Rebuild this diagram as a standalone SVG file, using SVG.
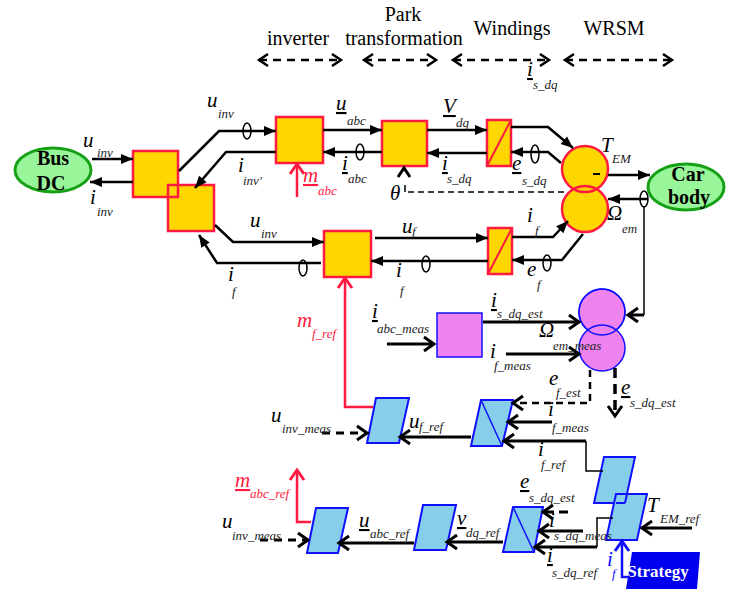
<svg xmlns="http://www.w3.org/2000/svg" width="739" height="589" viewBox="0 0 739 589">
<style>
.ln{fill:none;stroke:#000;stroke-width:2.5}
.th{fill:none;stroke:#000;stroke-width:1.5}
.lo{fill:none;stroke:#000;stroke-width:3}
.rl{fill:none;stroke:#ff1a40;stroke-width:2.5}
.bl{fill:none;stroke:#1010ff;stroke-width:2.5}
.ov{fill:none;stroke:#000;stroke-width:1.5}
.gold{fill:#ffd700;stroke:#ff1a40;stroke-width:2.5}
.goldf{fill:#ffd700;stroke:none}
.rs{fill:none;stroke:#ff1a40;stroke-width:2.5}
.pink{fill:#ee82ee;stroke:#1010ff;stroke-width:1.5}
.sky{fill:#87ceeb;stroke:#1010ff;stroke-width:2}
.ell{fill:#99f599;stroke:#16a016;stroke-width:3}
text{font-family:'Liberation Serif','Times New Roman','DejaVu Serif',serif}
.t{font-style:italic;font-size:21px;fill:#000}
.s{font-style:italic;font-size:13px;fill:#222}
.h{font-size:20px;fill:#000}
.b{font-weight:bold;font-size:20px;fill:#000;text-anchor:middle}
.r{fill:#ff1a40}
.bt{fill:#1010ff}
.u{text-decoration:underline}
</style>
<defs>
<marker id="fa" markerUnits="userSpaceOnUse" markerWidth="12" markerHeight="10" refX="12" refY="5" orient="auto" overflow="visible"><path d="M0,0 L12,5 L0,10 z" fill="#000"/></marker>
<marker id="oa" markerUnits="userSpaceOnUse" markerWidth="14" markerHeight="16" refX="12" refY="8" orient="auto" overflow="visible"><path d="M2,1 L12,8 L2,15" fill="none" stroke="#000" stroke-width="3"/></marker>
<marker id="or" markerUnits="userSpaceOnUse" markerWidth="14" markerHeight="16" refX="12" refY="8" orient="auto" overflow="visible"><path d="M2,1 L12,8 L2,15" fill="none" stroke="#ff1a40" stroke-width="3"/></marker>
<marker id="ob" markerUnits="userSpaceOnUse" markerWidth="14" markerHeight="16" refX="12" refY="8" orient="auto" overflow="visible"><path d="M2,1 L12,8 L2,15" fill="none" stroke="#1010ff" stroke-width="3"/></marker>
<marker id="ha" markerUnits="userSpaceOnUse" markerWidth="12" markerHeight="14" refX="10" refY="7" orient="auto-start-reverse" overflow="visible"><path d="M1,1 L10,7 L1,13" fill="none" stroke="#000" stroke-width="2.5"/></marker>
</defs>

<g id="headers">
<text class="h" x="298" y="45" text-anchor="middle">inverter</text>
<text class="h" x="403" y="21" text-anchor="middle">Park</text>
<text class="h" x="404" y="45" text-anchor="middle">transformation</text>
<text class="h" x="512" y="35" text-anchor="middle">Windings</text>
<text class="h" x="614" y="35" text-anchor="middle">WRSM</text>
<g fill="none" stroke="#000" stroke-width="2.5" stroke-dasharray="8,6" marker-start="url(#ha)" marker-end="url(#ha)">
<line x1="259" y1="60" x2="341" y2="60"/>
<line x1="364" y1="60" x2="436" y2="60"/>
<line x1="453" y1="60" x2="549" y2="60"/>
<line x1="565" y1="60" x2="672" y2="60"/>
</g>
</g>

<g id="nodes">
<g id="busdc"><ellipse class="ell" cx="53" cy="170" rx="38" ry="22"/><text class="b" x="53" y="165">Bus</text><text class="b" x="51" y="190">DC</text></g>
<g id="inv1"><rect class="gold" x="133" y="151" width="45" height="46"/></g>
<g id="inv2"><rect class="gold" x="168" y="185" width="46" height="46"/><path class="rs" d="M168,197 H178 V185"/></g>
<g id="inv3"><rect class="gold" x="276" y="117" width="47" height="46"/></g>
<g id="park"><rect class="gold" x="382" y="121" width="45" height="45"/></g>
<g id="wind1"><rect class="gold" x="487" y="120" width="24" height="46"/><line x1="487" y1="166" x2="511" y2="120" stroke="#ff1a40" stroke-width="2"/></g>
<g id="wind2"><rect class="gold" x="488" y="228" width="24" height="46"/><line x1="488" y1="274" x2="512" y2="228" stroke="#ff1a40" stroke-width="2"/></g>
<g id="chopper"><rect class="gold" x="324" y="231" width="47" height="46"/></g>
<g id="wrsm"><circle class="goldf" cx="585" cy="169" r="23"/><circle class="goldf" cx="585" cy="209" r="23"/><circle class="rs" cx="585" cy="169" r="23"/><circle class="rs" cx="585" cy="209" r="23"/><line x1="593" y1="174" x2="600" y2="174" stroke="#000" stroke-width="2"/></g>
<g id="carbody"><ellipse class="ell" cx="686" cy="187" rx="38" ry="23"/><text class="b" x="688" y="181">Car</text><text class="b" x="689" y="204" font-size="21">body</text></g>
<g id="estim"><rect class="pink" x="437" y="313" width="45" height="44"/></g>
<g id="meas"><circle class="pink" cx="602" cy="312" r="23"/><circle class="pink" cx="602" cy="348" r="23"/><circle fill="none" stroke="#1010ff" stroke-width="1.5" cx="602" cy="312" r="23"/></g>
<g id="pf1"><polygon class="sky" points="376,398 409,398 399,443 367,443"/></g>
<g id="pf2"><polygon class="sky" points="481,400 513,400 502,446 471,446"/><line x1="481" y1="400" x2="502" y2="446" stroke="#1010ff" stroke-width="1.5"/></g>
<g id="pf3"><polygon class="sky" points="604,457 635,457 625,503 594,503"/></g>
<g id="pf4"><polygon class="sky" points="616,494 647,494 637,540 606,540"/><line x1="616" y1="503" x2="625" y2="503" stroke="#1010ff" stroke-width="2"/><line x1="625" y1="503" x2="627" y2="494" stroke="#1010ff" stroke-width="2"/></g>
<g id="pf5"><polygon class="sky" points="513,507 543,507 534,552 503,552"/><line x1="513" y1="507" x2="534" y2="552" stroke="#1010ff" stroke-width="1.5"/></g>
<g id="pf6"><polygon class="sky" points="423,505 456,505 446,550 414,550"/></g>
<g id="pf7"><polygon class="sky" points="316,508 348,508 338,553 307,553"/></g>
<g id="strategy"><polygon points="632,552 700,552 697,589 626,589" fill="#0000ee"/><text x="658" y="577" text-anchor="middle" font-weight="bold" font-size="17" fill="#fff">Strategy</text></g>
</g>

<g id="connectors">
<g class="ln">
<line x1="92" y1="159" x2="133" y2="159" marker-end="url(#fa)"/>
<line x1="133" y1="182" x2="90" y2="182" marker-end="url(#fa)"/>
<polyline points="179,171 219,131 276,131" marker-end="url(#fa)"/>
<polyline points="276,152 226,152 195,188" marker-end="url(#fa)"/>
<line x1="323" y1="130" x2="382" y2="130" marker-end="url(#fa)"/>
<line x1="382" y1="152" x2="323" y2="152" marker-end="url(#fa)"/>
<line x1="427" y1="130" x2="487" y2="130" marker-end="url(#fa)"/>
<line x1="487" y1="153" x2="427" y2="153" marker-end="url(#fa)"/>
<polyline points="511,127 548,127 573,148" marker-end="url(#fa)"/>
<polyline points="561,163 548,152 511,152" marker-end="url(#fa)"/>
<line x1="608" y1="175" x2="650" y2="175" marker-end="url(#fa)"/>
<line x1="648" y1="199" x2="608" y2="199" marker-end="url(#fa)"/>
<polyline points="512,237 553,237 568,221" marker-end="url(#fa)"/>
<polyline points="583,234 562,260 512,260" marker-end="url(#fa)"/>
<line x1="375" y1="238" x2="488" y2="238" marker-end="url(#fa)"/>
<line x1="488" y1="261" x2="371" y2="261" marker-end="url(#fa)"/>
<polyline points="215,225 233,242 324,242" marker-end="url(#fa)"/>
<polyline points="321,263 217,263 199,235" marker-end="url(#fa)"/>
</g>
<g class="ov">
<ellipse cx="247" cy="131" rx="4" ry="8"/>
<ellipse cx="360" cy="152" rx="4" ry="8"/>
<ellipse cx="535" cy="154" rx="4" ry="9"/>
<ellipse cx="644" cy="199" rx="4" ry="8"/>
<ellipse cx="547" cy="263" rx="4" ry="8"/>
<ellipse cx="426" cy="264" rx="4" ry="8"/>
<ellipse cx="303" cy="268" rx="4" ry="8"/>
</g>
<polyline class="lo" points="398,177 404,168 410,177"/>
<polyline class="th" points="405,185 405,192"/>
<line x1="564" y1="192" x2="405" y2="192" stroke="#000" stroke-width="1.5" stroke-dasharray="6,4"/>
<polyline class="th" points="644,207 644,315"/>
<line class="lo" x1="644" y1="315" x2="628" y2="315" marker-end="url(#oa)"/>
<polyline class="rl" points="297,197 297,164" marker-end="url(#or)"/>
<polyline class="rl" points="373,407 345,407 345,278" marker-end="url(#or)"/>
<polyline class="rl" points="311,522 297,522 297,470" marker-end="url(#or)"/>
<polyline class="bl" points="630,577 622,577 622,541" marker-end="url(#ob)"/>
<g class="lo">
<line x1="387" y1="344" x2="434" y2="344" marker-end="url(#oa)"/>
<line x1="483" y1="322" x2="579" y2="322" marker-end="url(#oa)"/>
<line x1="506" y1="354" x2="579" y2="354" marker-end="url(#oa)"/>
<polyline points="590,370 590,403 513,403" stroke-width="2.5" stroke-dasharray="7,5" marker-end="url(#oa)"/>
<line x1="615" y1="368" x2="615" y2="416" stroke-width="3.5" stroke-dasharray="10,6" marker-end="url(#oa)"/>
<line x1="471" y1="437" x2="400" y2="437" marker-end="url(#oa)"/>
<line x1="322" y1="433" x2="367" y2="433" stroke-dasharray="8,6" marker-end="url(#oa)"/>
<line x1="552" y1="422" x2="508" y2="422" marker-end="url(#oa)"/>
<line x1="586" y1="441" x2="504" y2="441" marker-end="url(#oa)"/>
<line x1="692" y1="528" x2="642" y2="528" marker-end="url(#oa)"/>
<line x1="568" y1="512" x2="543" y2="512" stroke-dasharray="9,5" marker-end="url(#oa)"/>
<line x1="583" y1="531" x2="539" y2="531" marker-end="url(#oa)"/>
<line x1="597" y1="547" x2="535" y2="547" marker-end="url(#oa)"/>
<line x1="503" y1="542" x2="447" y2="542" marker-end="url(#oa)"/>
<line x1="414" y1="543" x2="339" y2="543" marker-end="url(#oa)"/>
<line x1="260" y1="540" x2="308" y2="540" stroke-dasharray="8,6" marker-end="url(#oa)"/>
</g>
<polyline class="th" points="603,471 586,471 586,441"/>
<polyline class="th" points="613,518 597,518 597,547"/>
</g>

<g id="labels">
<text class="t" x="527" y="76"><tspan class="u">i</tspan></text><text class="s" x="533" y="89">s_dq</text>
<text class="t" x="83" y="147" font-size="25">u</text><text class="s" x="97" y="157">inv</text>
<text class="t" x="90" y="204" font-size="24">i</text><text class="s" x="97" y="216">inv</text>
<text class="t" x="207" y="107">u</text><text class="s" x="218" y="118">inv</text>
<text class="t" x="238" y="172">i</text><text class="s" x="243" y="185">inv'</text>
<text class="t u" x="336" y="110">u</text><text class="s" x="347" y="125">abc</text>
<text class="t u" x="342" y="170">i</text><text class="s" x="348" y="183">abc</text>
<text class="t u r" x="303" y="182">m</text><text class="s r" x="318" y="195">abc</text>
<text class="t u" x="443" y="113">V</text><text class="s" x="456" y="127">dq</text>
<text class="t u" x="442" y="170">i</text><text class="s" x="447" y="183">s_dq</text>
<text class="t" x="390" y="200" font-size="23">θ</text>
<text class="t u" x="512" y="170">e</text><text class="s" x="522" y="185">s_dq</text>
<text class="t" x="601" y="152" font-size="22">T</text><text class="s" x="612" y="163">EM</text>
<text class="t" x="607" y="220">Ω</text><text class="s" x="622" y="233">em</text>
<text class="t" x="527" y="222">i</text><text class="s" x="535" y="235">f</text>
<text class="t" x="527" y="276">e</text><text class="s" x="537" y="289">f</text>
<text class="t" x="402" y="233">u</text><text class="s" x="412" y="236">f</text>
<text class="t" x="396" y="277">i</text><text class="s" x="400" y="295">f</text>
<text class="t" x="250" y="227">u</text><text class="s" x="261" y="238">inv</text>
<text class="t" x="228" y="281">i</text><text class="s" x="232" y="296">f</text>
<text class="t r" x="297" y="327" font-size="22">m</text><text class="s r" x="312" y="338">f_ref</text>
<text class="t u" x="372" y="318">i</text><text class="s" x="377" y="333">abc_meas</text>
<text class="t u" x="491" y="307">i</text><text class="s" x="497" y="318">s_dq_est</text>
<text class="t" x="539" y="337">Ω</text><text class="s" x="553" y="350">em_meas</text>
<text class="t" x="490" y="358">i</text><text class="s" x="494" y="370">f_meas</text>
<text class="t" x="549" y="385">e</text><text class="s" x="556" y="397">f_est</text>
<text class="t u" x="621" y="394">e</text><text class="s" x="630" y="407">s_dq_est</text>
<text class="t" x="271" y="422" font-size="22">u</text><text class="s" x="282" y="433">inv_meas</text>
<text class="t" x="409" y="428">u</text><text class="s" x="419" y="431">f_ref</text>
<text class="t" x="548" y="416">i</text><text class="s" x="552" y="432">f_meas</text>
<text class="t" x="538" y="456">i</text><text class="s" x="541" y="469">f_ref</text>
<text class="t" x="647" y="512" font-size="22">T</text><text class="s" x="660" y="523">EM_ref</text>
<text class="t u" x="520" y="488">e</text><text class="s" x="529" y="502">s_dq_est</text>
<text class="t" x="549" y="527">i</text><text class="s" x="554" y="540">s_dq_meas</text>
<text class="t u" x="547" y="562">i</text><text class="s" x="552" y="577">s_dq_ref</text>
<text class="t bt" x="607" y="566">i</text><text class="s bt" x="612" y="578">f</text>
<text class="t u" x="457" y="525">v</text><text class="s" x="466" y="537">dq_ref</text>
<text class="t u" x="359" y="527">u</text><text class="s" x="370" y="538">abc_ref</text>
<text class="t" x="222" y="528" font-size="22">u</text><text class="s" x="232" y="540">inv_meas</text>
<text class="t u r" x="235" y="487">m</text><text class="s r" x="250" y="498">abc_ref</text>
</g>
</svg>
